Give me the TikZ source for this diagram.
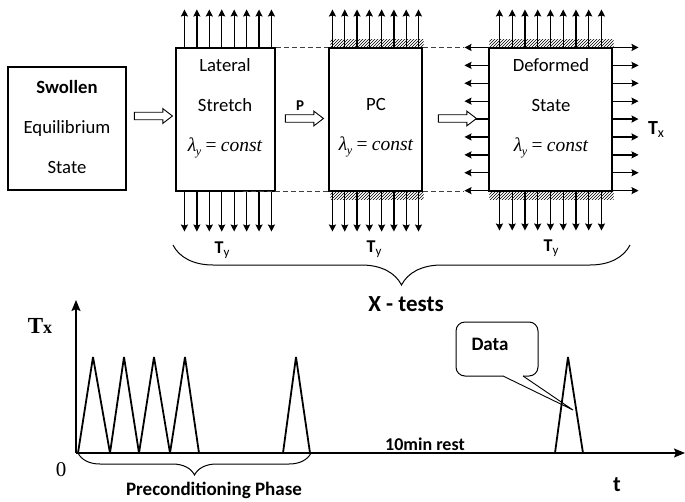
\documentclass[tikz,border=0pt]{standalone}
\usepackage{fontspec}
\setmainfont{Carlito}
\newfontfamily\timesf{Liberation Serif}
\usetikzlibrary{arrows.meta,patterns,decorations.pathreplacing,shapes.arrows,calc}
\tikzset{
  box/.style={draw, line width=1.1pt, inner sep=0pt},
  force/.style={line width=1.3pt, -{Stealth[length=7pt,width=7pt,inset=1pt]}},
  dashline/.style={draw=black!75, line width=1pt, dash pattern=on 5pt off 3pt},
  hollow/.style={single arrow, draw, line width=0.9pt, fill=white, inner sep=0pt, inner ysep=3.3pt,
     minimum height=38pt, single arrow head extend=3.6pt, single arrow tip angle=75},
  txt/.style={inner sep=0pt, align=center, font=\fontsize{18.7}{40}\selectfont},
  hatch/.style={pattern=north east lines},
  axis/.style={line width=1.5pt, -{Stealth[length=11pt,width=9pt,inset=2pt]}},
  peak/.style={line width=1.8pt, line join=bevel},
  brace/.style={decorate, line width=1pt},
}
\newcommand{\lamconst}{{\timesf\itshape\fontsize{19.5}{19.5}\selectfont λ\kern-0.5pt\raisebox{-4pt}{\fontsize{12}{12}\selectfont y}\,=\,const}}
\newcommand{\Tsub}[3]{{\bfseries\fontsize{#1}{#1}\selectfont T}\raisebox{-3pt}{\fontsize{#2}{#2}\selectfont #3}}
\begin{document}
\begin{tikzpicture}[x=1pt,y=-1pt]
\useasboundingbox (0,0) rectangle (685,501);
% boxes
\node[box, minimum width=118pt, minimum height=123pt] (sw) at (67,128.5) {};
\node[box, minimum width=99pt, minimum height=143pt] (ls) at (225.5,119.5) {};
\node[box, minimum width=93pt, minimum height=143pt] (pc) at (375.5,119.5) {};
\node[box, minimum width=123pt, minimum height=143pt] (df) at (550.5,119.5) {};
% texts in boxes
\node[txt] (swt) at (67,127) {\textbf{Swollen}\\Equilibrium\\State};
\node[txt] (lst) at (225,108) {Lateral\\Stretch\\\lamconst};
\node[txt] (pct) at (376,128) {PC\\\lamconst};
\node[txt] (dft) at (551,108) {Deformed\\State\\\lamconst};
% hatching
\fill[hatch] ($(pc.north west)+(2,-8)$) rectangle ($(pc.north east)+(1,0)$);
\fill[hatch] ($(pc.south west)+(2,0)$) rectangle ($(pc.south east)+(1,8)$);
\fill[hatch] ($(df.north west)+(1,-8)$) rectangle ($(df.north east)+(1,0)$);
\fill[hatch] ($(df.south west)+(1,0)$) rectangle ($(df.south east)+(1,8)$);
% dashed guides
\draw[dashline] (ls.north east) -- (pc.north west);
\draw[dashline] ($(ls.south east)+(-33,0)$) -- (pc.south west);
\coordinate (dtl) at ($(df.north west)+(-24,0)$);
\coordinate (dbl) at ($(df.south west)+(-24,0)$);
\draw[dashline] (pc.north east) -- (dtl);
\draw[dashline] (pc.south east) -- (dbl);
% force arrows
\foreach \i in {0,...,7} {
  \draw[force] ($(ls.north west)+(9+12.43*\i,0)$) -- ++(0,-38);
  \draw[force] ($(ls.south west)+(9+12.43*\i,0)$) -- ++(0,40);
  \draw[force] ($(pc.north west)+(4+12.29*\i,0)$) -- ++(0,-38);
  \draw[force] ($(pc.south west)+(4+12.29*\i,0)$) -- ++(0,40);
}
\foreach \i in {0,...,8} {
  \draw[force] ($(df.north west)+(11+12.75*\i,0)$) -- ++(0,-38);
  \draw[force] ($(df.south west)+(11+12.75*\i,0)$) -- ++(0,39);
  \draw[force] ($(df.north west)+(0,17.9*\i)$) -- ++(-24,0);
  \draw[force] ($(df.north east)+(0,17.9*\i)$) -- ++(26,0);
}
% hollow arrows
\node[hollow] (a1) at ($(sw.east)!0.5!(ls.west)+(0,-8)$) {};
\node[hollow] (a2) at ($(ls.east)!0.5!(pc.west)+(0,-1)$) {};
\node[hollow] (a3) at ($(pc.east)!0.5!(df.west)+(-0.5,-1)$) {};
\node[font=\bfseries\fontsize{15}{15}\selectfont, inner sep=0pt] (p) at (300,106) {P};
% labels
\node[inner sep=0pt] (tx) at (656,130) {\Tsub{20}{14}{x}};
\node[inner sep=0pt] (ty1) at (222,250) {\Tsub{18}{13}{y}};
\node[inner sep=0pt] (ty2) at (374,249) {\Tsub{18}{13}{y}};
\node[inner sep=0pt] (ty3) at (551,248) {\Tsub{18}{13}{y}};
% big brace
\coordinate (b1) at (173,245);
\coordinate (b2) at (630,245);
\draw[brace, decoration={brace, mirror, amplitude=40pt}] (b1) -- (b2);
\node[font=\bfseries\fontsize{23}{23}\selectfont, inner sep=0pt] (xt) at (406,304) {X - tests};
% graph
\coordinate (o) at (76,453);
\coordinate (ytop) at (76,300);
\coordinate (xend) at (685,453);
\draw[axis] (o) -- (ytop);
\draw[axis] (o) -- (xend);
\draw[peak] (78,453) -- (93,357) -- (110,453) -- (124,357) -- (139,453) -- (154,357) -- (170,453) -- (185,357) -- (199,453);
\draw[peak] (283,453) -- (296,357) -- (310,453);
\draw[peak] (555,453) -- (568,357) -- (583,453);
\node[inner sep=0pt] (txg) at (40,326) {\timesf\bfseries\fontsize{23}{23}\selectfont T\fontsize{18}{18}\selectfont x};
\node[inner sep=0pt] (zero) at (61,470) {\timesf\fontsize{21}{21}\selectfont 0};
\node[inner sep=0pt, font=\bfseries\fontsize{18}{18}\selectfont] (rest) at (425,444) {10min rest};
\node[inner sep=0pt, font=\bfseries\fontsize{22}{22}\selectfont] (t) at (617,485) {t};
% preconditioning brace
\coordinate (p1) at (78,453);
\coordinate (p2) at (311,453);
\draw[brace, decoration={brace, mirror, amplitude=22pt}] (p1) -- (p2);
\node[inner sep=0pt, font=\bfseries\fontsize{19}{19}\selectfont] (pre) at (214,490) {Preconditioning Phase};
% data callout
\node[inner sep=0pt, font=\bfseries\fontsize{19}{19}\selectfont] (data) at (490,344) {Data};
\coordinate (c1) at (503,376);
\coordinate (c2) at (523,376);
\coordinate (ctip) at (573,410);
\draw[line width=1pt, rounded corners=9pt] (c2) -- (538,376) -- (538,322) -- (456,322) -- (456,376) -- (c1);
\draw[line width=0.9pt] (c1) -- (ctip) -- (c2);
\end{tikzpicture}
\end{document}
